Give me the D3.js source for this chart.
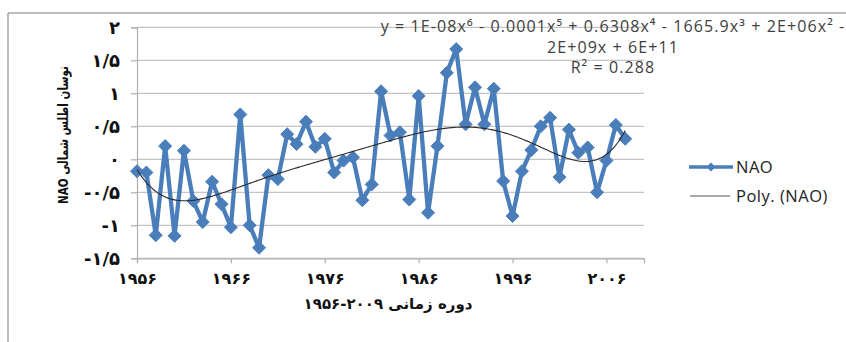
<!DOCTYPE html>
<html>
<head>
<meta charset="utf-8">
<script src="https://cdn.jsdelivr.net/npm/d3@7"></script>
<style>
  html, body { margin: 0; padding: 0; background: #fff; }
  svg { display: block; }
</style>
</head>
<body>
<svg id="chart" width="846" height="342"></svg>
<script>
// ---- data ----
const years = [1956,1957,1958,1959,1960,1961,1962,1963,1964,1965,1966,1967,1968,1969,1970,
  1971,1972,1973,1974,1975,1976,1977,1978,1979,1980,1981,1982,1983,1984,1985,1986,1987,1988,
  1989,1990,1991,1992,1993,1994,1995,1996,1997,1998,1999,2000,2001,2002,2003,2004,2005,2006,
  2007,2008];
const nao = [-0.18,-0.20,-1.15,0.20,-1.16,0.13,-0.63,-0.95,-0.34,-0.68,-1.03,0.68,-1.00,-1.34,
  -0.24,-0.30,0.38,0.23,0.57,0.19,0.31,-0.20,-0.02,0.03,-0.62,-0.38,1.03,0.36,0.41,-0.61,0.96,
  -0.81,0.20,1.31,1.67,0.53,1.09,0.53,1.07,-0.33,-0.86,-0.18,0.14,0.50,0.63,-0.27,0.45,0.10,
  0.18,-0.50,-0.02,0.52,0.31];
const xTickValues = [1956,1966,1976,1986,1996,2006];
const xTickLabels = ["۱۹۵۶","۱۹۶۶","۱۹۷۶","۱۹۸۶","۱۹۹۶","۲۰۰۶"];
const yTickValues = [-1.5,-1,-0.5,0,0.5,1,1.5,2];
const yTickLabels = ["-۱/۵","-۱","-۰/۵","۰","۰/۵","۱","۱/۵","۲"];
const seriesName = "NAO";
const trendName = "Poly. (NAO)";
const equationLines = ["y = 1E-08x⁶ - 0.0001x⁵ + 0.6308x⁴ - 1665.9x³ + 2E+06x² -",
                       "2E+09x + 6E+11", "R² = 0.288"];
const xTitle = "دوره زمانی ۲۰۰۹-۱۹۵۶";
const yTitle = "نوسان اطلس شمالی NAO";

// ---- polynomial (order 6) least-squares trend from the data ----
function polyFit(xs, ys, deg) {
  const n = deg + 1;
  const A = Array.from({length: n}, () => new Array(n + 1).fill(0));
  xs.forEach((x, k) => {
    const p = [];
    for (let i = 0; i < n; i++) p.push(Math.pow(x, i));
    for (let i = 0; i < n; i++) {
      for (let j = 0; j < n; j++) A[i][j] += p[i] * p[j];
      A[i][n] += p[i] * ys[k];
    }
  });
  for (let c = 0; c < n; c++) {
    let piv = c;
    for (let r = c + 1; r < n; r++) if (Math.abs(A[r][c]) > Math.abs(A[piv][c])) piv = r;
    [A[c], A[piv]] = [A[piv], A[c]];
    for (let r = 0; r < n; r++) {
      if (r === c) continue;
      const f = A[r][c] / A[c][c];
      for (let j = c; j <= n; j++) A[r][j] -= f * A[c][j];
    }
  }
  return A.map((row, i) => row[n] / row[i]);
}
const x0 = 1982, xs0 = 26;
const coef = polyFit(years.map(y => (y - x0) / xs0), nao, 6);
const polyAt = yr => { const t = (yr - x0) / xs0; return coef.reduce((s, c, i) => s + c * Math.pow(t, i), 0); };
const trendPts = d3.range(years[0], years[years.length - 1] + 0.001, 0.25).map(yr => [yr, polyAt(yr)]);

// ---- drawing ----
const svg = d3.select("#chart");
const plot = {left: 137, right: 644, top: 27.3, bottom: 258.3};
const x = d3.scaleLinear().domain([1956, 2010]).range([plot.left, plot.right]);
const y = d3.scaleLinear().domain([-1.5, 2]).range([plot.bottom, plot.top]);

// outer border (top + left)
svg.append("line").attr("x1", 8).attr("x2", 846).attr("y1", 13).attr("y2", 13)
  .attr("stroke", "#a6a6a6").attr("stroke-width", 1.5);
svg.append("line").attr("x1", 8).attr("x2", 8).attr("y1", 13).attr("y2", 342)
  .attr("stroke", "#a6a6a6").attr("stroke-width", 1.5);

// gridlines
svg.append("g").selectAll("line").data(yTickValues).join("line")
  .attr("x1", plot.left).attr("x2", plot.right)
  .attr("y1", d => y(d)).attr("y2", d => y(d))
  .attr("stroke", "#c4c4c4").attr("stroke-width", 1.2);

// y axis
const yAxis = svg.append("g").attr("transform", `translate(${plot.left},0)`)
  .call(d3.axisLeft(y).tickValues(yTickValues).tickSize(6).tickPadding(11)
    .tickFormat((d, i) => yTickLabels[i]));
yAxis.select(".domain").attr("stroke", "#b0b0b0").attr("stroke-width", 1.2);
yAxis.selectAll(".tick line").attr("stroke", "#b0b0b0").attr("stroke-width", 1.2);
yAxis.selectAll("text").attr("font-family", "DejaVu Sans").attr("font-weight", "bold")
  .attr("font-size", 18).attr("fill", "#111").attr("letter-spacing", 1)
  .attr("direction", "ltr");

// x axis
const xAxis = svg.append("g").attr("transform", `translate(0,${plot.bottom})`)
  .call(d3.axisBottom(x).tickValues(xTickValues).tickSize(5).tickPadding(9)
    .tickFormat((d, i) => xTickLabels[i]));
xAxis.select(".domain").attr("stroke", "#b0b0b0").attr("stroke-width", 1.2);
xAxis.selectAll(".tick line").attr("stroke", "#b0b0b0").attr("stroke-width", 1.2);
xAxis.selectAll("text").attr("font-family", "DejaVu Sans").attr("font-weight", "bold")
  .attr("font-size", 16).attr("fill", "#111").attr("letter-spacing", 3)
  .attr("direction", "ltr");

// axis titles
svg.append("text").attr("x", 388).attr("y", 309).attr("text-anchor", "middle")
  .attr("direction", "rtl").attr("font-family", "DejaVu Sans").attr("font-weight", "bold")
  .attr("font-size", 15).attr("fill", "#111").attr("letter-spacing", 1).text(xTitle);
svg.append("text").attr("transform", "translate(68,135) rotate(-90)").attr("text-anchor", "middle")
  .attr("direction", "rtl").attr("font-family", "DejaVu Sans").attr("font-weight", "bold")
  .attr("font-size", 14).attr("textLength", 138).attr("lengthAdjust", "spacingAndGlyphs")
  .attr("fill", "#111").text(yTitle);

// data line + markers
const line = d3.line().x((d, i) => x(years[i])).y(d => y(d));
svg.append("path").datum(nao).attr("d", line).attr("fill", "none")
  .attr("stroke", "#4a7ebb").attr("stroke-width", 4.3).attr("stroke-linejoin", "round");
const diamond = "M0,-6.5L6.5,0L0,6.5L-6.5,0Z";
svg.append("g").selectAll("path").data(nao).join("path")
  .attr("d", diamond)
  .attr("transform", (d, i) => `translate(${x(years[i])},${y(d)})`)
  .attr("fill", "#4a7ebb").attr("stroke", "#4a7ebb").attr("stroke-width", 1);

// trend line
svg.append("path").datum(trendPts)
  .attr("d", d3.line().x(d => x(d[0])).y(d => y(d[1])).curve(d3.curveMonotoneX))
  .attr("fill", "none").attr("stroke", "#2b2b2b").attr("stroke-width", 1.1);

// equation
const eq = svg.append("text").attr("text-anchor", "middle").attr("font-family", "Open Sans")
  .attr("font-size", 16).attr("fill", "#404040").attr("letter-spacing", 1.1);
equationLines.forEach((t, i) => {
  eq.append("tspan").attr("x", 613).attr("y", 32 + i * 20.5).text(t);
});

// legend
const lg = svg.append("g");
lg.append("line").attr("x1", 689).attr("x2", 733).attr("y1", 167).attr("y2", 167)
  .attr("stroke", "#4a7ebb").attr("stroke-width", 3.5);
lg.append("path").attr("d", "M0,-4.5L4.5,0L0,4.5L-4.5,0Z").attr("transform", "translate(711,167)")
  .attr("fill", "#4a7ebb");
lg.append("text").attr("x", 736).attr("y", 167).attr("dy", "0.35em").attr("font-family", "Open Sans")
  .attr("font-size", 16.5).attr("fill", "#222").attr("letter-spacing", 0.5).text(seriesName);
lg.append("line").attr("x1", 690).attr("x2", 730).attr("y1", 196).attr("y2", 196)
  .attr("stroke", "#555").attr("stroke-width", 1.2);
lg.append("text").attr("x", 736).attr("y", 196).attr("dy", "0.35em").attr("font-family", "Open Sans")
  .attr("font-size", 16.5).attr("fill", "#222").attr("letter-spacing", 0.5).text(trendName);
</script>
</body>
</html>
